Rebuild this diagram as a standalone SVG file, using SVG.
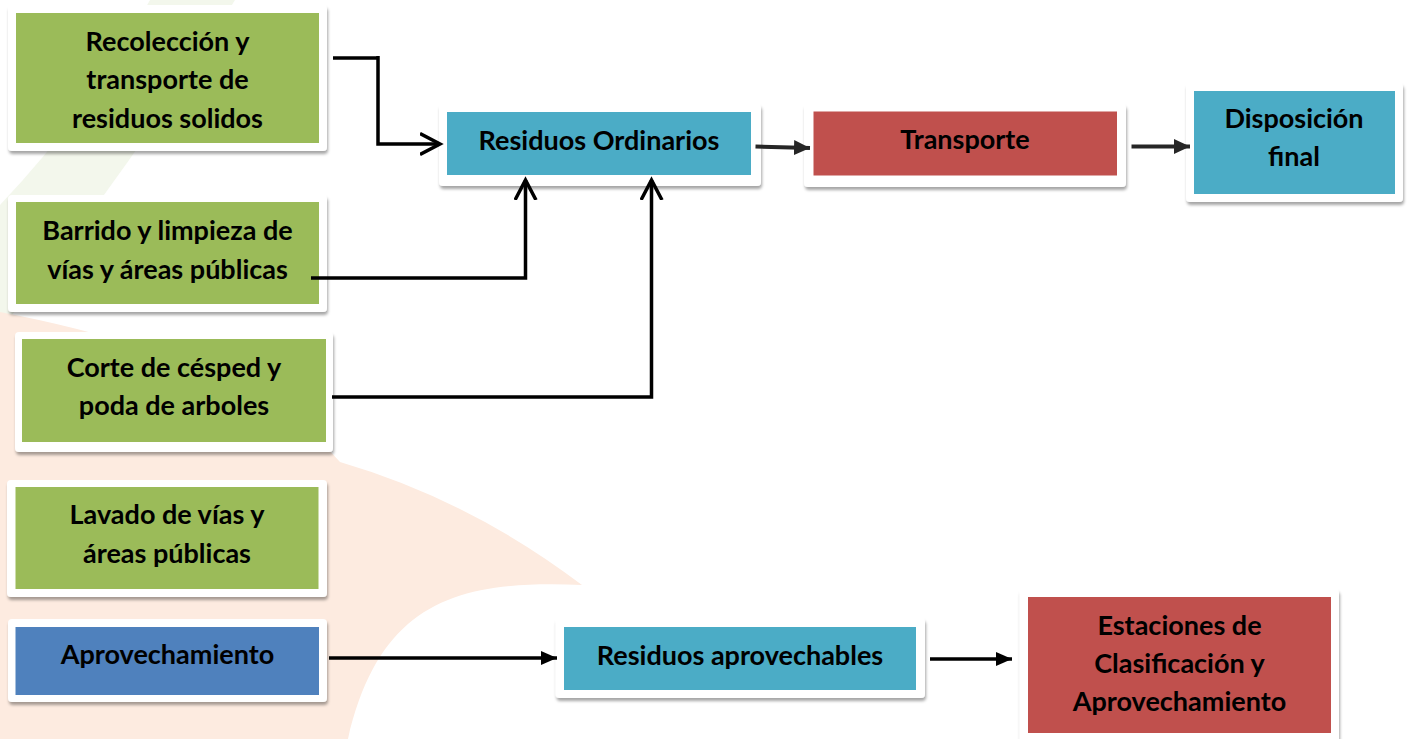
<svg xmlns="http://www.w3.org/2000/svg" width="1409" height="739" viewBox="0 0 1409 739">
<defs>
<filter id="sh" x="-10%" y="-10%" width="120%" height="130%">
<feDropShadow dx="1" dy="3" stdDeviation="1.6" flood-color="#000" flood-opacity="0.35"/>
</filter>
<marker id="open" viewBox="0 0 24 24" markerWidth="24" markerHeight="24" refX="20" refY="12" orient="auto" markerUnits="userSpaceOnUse">
<path d="M0,1.5 L20,12 L0,22.5" fill="none" stroke="#000" stroke-width="3.5" stroke-linejoin="miter"/>
</marker>
<marker id="fillD" viewBox="0 0 18 16" markerWidth="18" markerHeight="16" refX="16" refY="8" orient="auto" markerUnits="userSpaceOnUse">
<path d="M0,0.5 L16,8 L0,15.5 Z" fill="#262626"/>
</marker>
<marker id="fillB" viewBox="0 0 18 16" markerWidth="18" markerHeight="16" refX="16" refY="8" orient="auto" markerUnits="userSpaceOnUse">
<path d="M0,1 L16,8 L0,15 Z" fill="#000"/>
</marker>
<style>
.frame{fill:#fff;filter:url(#sh)}
.g{fill:#9BBB59}
.t{fill:#4BACC6}
.r{fill:#C0504D}
.b{fill:#4F81BD}
text{font-family:Lato,"Liberation Sans",sans-serif;font-weight:700;font-size:27px;fill:#000;text-anchor:middle}
.c{fill:none;stroke:#000;stroke-width:3.5}
.cd{fill:none;stroke:#262626;stroke-width:4}
</style>
</defs>
<rect width="1409" height="739" fill="#fff"/>
<g id="background">
<path d="M150,0 L235,0 Q130,170 0,330 L0,205 Q90,110 150,0 Z" fill="#f3f7ec"/>
<path d="M0,312 Q250,360 340,462 Q470,500 582,585 C460,580 380,600 348,739 L0,739 Z" fill="#fdebe0"/>
</g>
<g id="n1">
<rect class="frame" x="8" y="5" width="319" height="146" rx="4"/>
<rect class="g" x="16" y="13" width="303" height="130"/>
<text x="167.5" y="50.5">Recolección y</text>
<text x="167.5" y="89">transporte de</text>
<text x="167.5" y="127.5">residuos solidos</text>
</g>
<g id="n2">
<rect class="frame" x="8" y="195" width="319" height="117" rx="4"/>
<rect class="g" x="16" y="202" width="303" height="102"/>
<text x="167.5" y="240">Barrido y limpieza de</text>
<text x="167.5" y="278.5">vías y áreas públicas</text>
</g>
<g id="n3">
<rect class="frame" x="15" y="332" width="318" height="120" rx="4"/>
<rect class="g" x="22" y="339" width="304" height="103"/>
<text x="174" y="376.5">Corte de césped y</text>
<text x="174" y="415">poda de arboles</text>
</g>
<g id="n4">
<rect class="frame" x="7" y="480" width="320" height="117" rx="4"/>
<rect class="g" x="15.5" y="487" width="303" height="102"/>
<text x="167" y="524">Lavado de vías y</text>
<text x="167" y="562.5">áreas públicas</text>
</g>
<g id="n5">
<rect class="frame" x="8" y="619" width="319" height="83" rx="4"/>
<rect class="b" x="15.5" y="627" width="303.5" height="68"/>
<text x="167.5" y="663.5">Aprovechamiento</text>
</g>
<g id="n6">
<rect class="frame" x="439" y="104" width="322" height="82" rx="4"/>
<rect class="t" x="447" y="112" width="304" height="63"/>
<text x="599" y="150">Residuos Ordinarios</text>
</g>
<g id="n7">
<rect class="frame" x="804" y="104" width="322" height="83" rx="4"/>
<rect class="r" x="813.5" y="111.5" width="303.5" height="64"/>
<text x="965" y="149">Transporte</text>
</g>
<g id="n8">
<rect class="frame" x="1186" y="83" width="217" height="119" rx="4"/>
<rect class="t" x="1194" y="91" width="201" height="103"/>
<text x="1294" y="127.5">Disposición</text>
<text x="1294" y="166">final</text>
</g>
<g id="n9">
<rect class="frame" x="555.5" y="618" width="369.5" height="80" rx="4"/>
<rect class="t" x="564" y="627" width="352" height="63"/>
<text x="740" y="664.5">Residuos aprovechables</text>
</g>
<g id="n10">
<rect class="frame" x="1019.5" y="589" width="319.5" height="156" rx="4"/>
<rect class="r" x="1028" y="597" width="303" height="136"/>
<text x="1179.5" y="634.5">Estaciones de</text>
<text x="1179.5" y="673">Clasificación y</text>
<text x="1179.5" y="711">Aprovechamiento</text>
</g>
<g id="connectors">
<path class="c" d="M333,58 L378,58" stroke-width="4.7"/>
<path class="c" d="M378,56 L378,144 L440,144" marker-end="url(#open)"/>
<path class="c" d="M311,278 L525.5,278 L525.5,180" marker-end="url(#open)"/>
<path class="c" d="M332,397 L651.5,397 L651.5,180" marker-end="url(#open)"/>
<path class="cd" d="M755.5,146.5 L810,148" marker-end="url(#fillD)"/>
<path class="cd" d="M1131.5,146.5 L1190,146.5" marker-end="url(#fillD)"/>
<path class="c" d="M329,658 L557,658" marker-end="url(#fillB)"/>
<path class="c" d="M930,659 L1012,659" marker-end="url(#fillB)"/>
</g>
</svg>
